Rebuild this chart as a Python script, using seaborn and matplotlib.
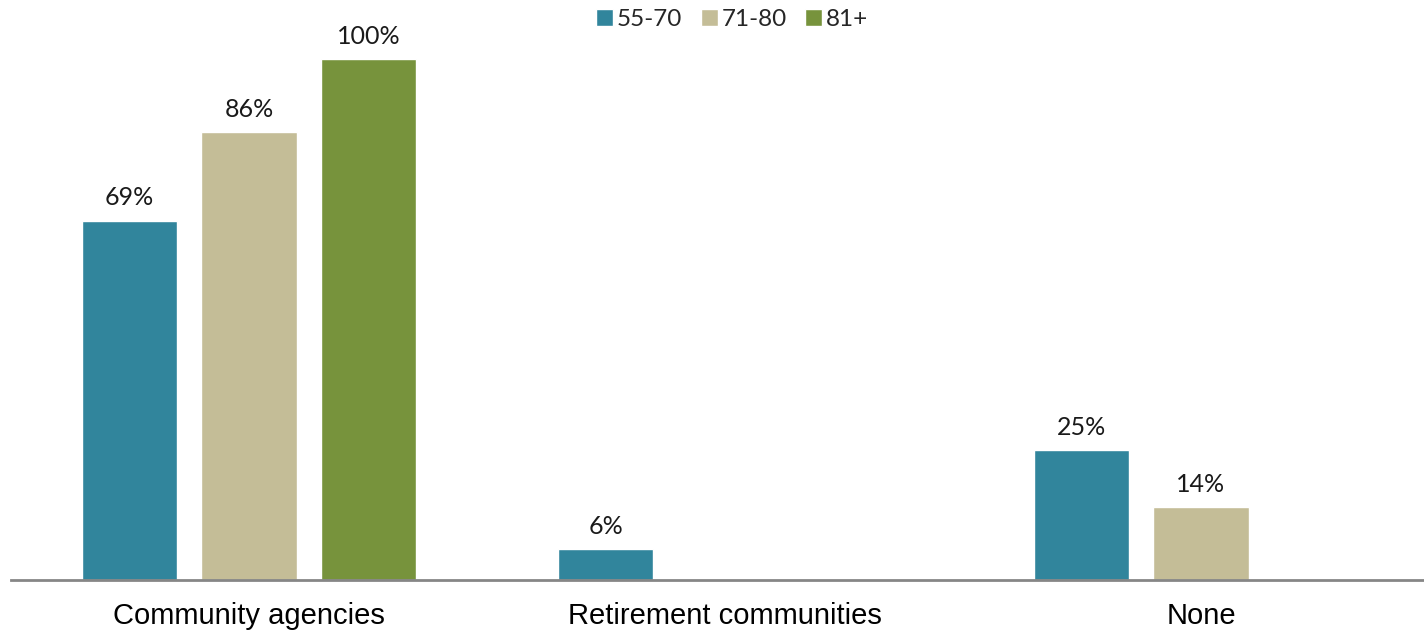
import matplotlib
matplotlib.use('Agg')
import matplotlib.pyplot as plt
import numpy as np
import pandas as pd
import seaborn as sns

categories = ['Community agencies', 'Retirement communities', 'None']
age_groups = ['55-70', '71-80', '81+']
vals_55_70 = [69, 6, 25]
vals_71_80 = [86, np.nan, 14]
vals_81_plus = [100, np.nan, np.nan]
colors = ['#31859C', '#C4BD97', '#77933C']

df = pd.DataFrame({'Category': categories * 3,
                   'Age': [a for a in age_groups for _ in categories],
                   'Percent': vals_55_70 + vals_71_80 + vals_81_plus})

sns.set_style('white')
fig = plt.figure(figsize=(14.24, 6.31), dpi=100)
ax = fig.add_axes([11 / 1424, 51 / 631, 1428 / 1424, 521 / 631])

sns.barplot(data=df, x='Category', y='Percent', hue='Age', order=categories,
            hue_order=age_groups, palette=colors, width=0.753, gap=0.203,
            saturation=1, ax=ax, legend=True)

for cont in ax.containers:
    labels = ['' if np.isnan(v) else f'{v:.0f}%' for v in cont.datavalues]
    ax.bar_label(cont, labels=labels, padding=8, fontsize=18, family='Lato',
                 color='#1a1a1a', clip_on=False)

ax.set_ylim(0, 100)
ax.set_xlim(-0.5, 2.5)
ax.set_xlabel('')
ax.set_ylabel('')
ax.set_yticks([])
for s in ['top', 'right', 'left']:
    ax.spines[s].set_visible(False)
ax.spines['bottom'].set_color('#868686')
ax.spines['bottom'].set_linewidth(2)
ax.tick_params(axis='x', length=0, pad=16)
for t in ax.get_xticklabels():
    t.set_fontfamily('Liberation Sans')
    t.set_fontsize(21)
    t.set_color('black')

leg = ax.legend(loc='upper center', bbox_to_anchor=(0.5 + 7 / 1428, 1 + 72 / 521),
                ncol=3, frameon=False, prop={'family': 'Lato', 'size': 17.5},
                handlelength=0.7, handleheight=0.7, handletextpad=0.15,
                columnspacing=0.75)

fig.savefig('out.png', dpi=100)
